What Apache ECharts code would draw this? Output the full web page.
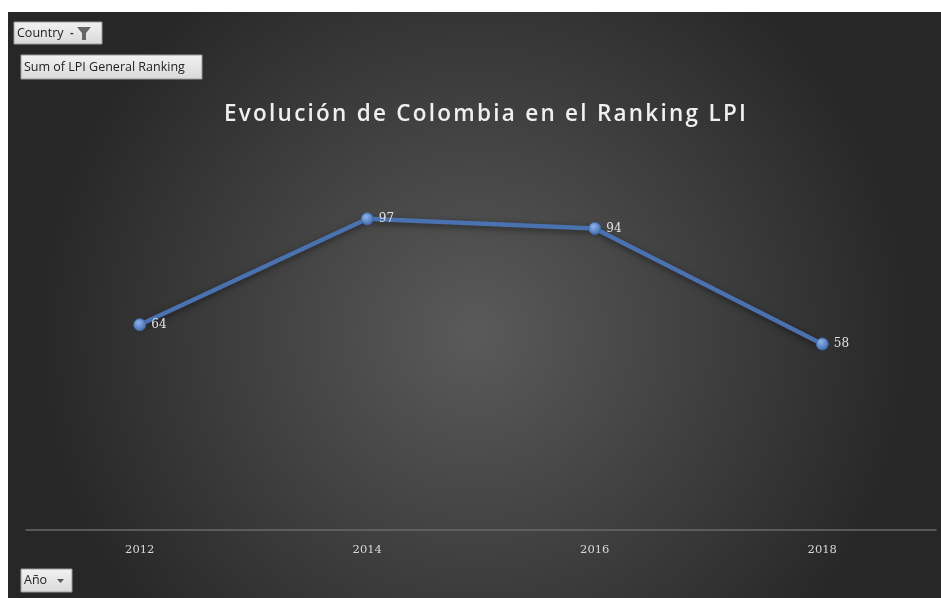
<!DOCTYPE html>
<html>
<head>
<meta charset="utf-8">
<script src="https://cdn.jsdelivr.net/npm/echarts@6/dist/echarts.min.js"></script>
<style>
html,body{margin:0;padding:0;background:#fff;}
#c{width:941px;height:598px;}
</style>
</head>
<body>
<div id="c"></div>
<script>
const years = ['2012', '2014', '2016', '2018'];
const ranking = [64, 97, 94, 58];
const titleText = 'Evolución de Colombia en el Ranking LPI';

const chart = echarts.init(document.getElementById('c'), null, {renderer: 'canvas'});

function button(x, y, w, h, text) {
  return [
    {type: 'rect', shape: {x: x, y: y, width: w, height: h},
     style: {fill: new echarts.graphic.LinearGradient(0, 0, 0, 1, [{offset: 0, color: '#f2f2f2'}, {offset: 1, color: '#d9d9d9'}]),
             stroke: '#9a9a9a', lineWidth: 1}, z: 10},
    {type: 'text', x: x + 3, y: y + h / 2,
     style: {text: text, fill: '#222', font: '12.5px "Open Sans", sans-serif', verticalAlign: 'middle'}, z: 11}
  ];
}

// spaced title (Excel uses character spacing)
const spacedTitle = titleText.split('').join('\u200A');

const graphics = [
  {type: 'rect', shape: {x: 8, y: 12, width: 933, height: 586},
   style: {fill: new echarts.graphic.RadialGradient(0.5, 0.55, 0.75, [
     {offset: 0, color: '#5a5a5a'}, {offset: 1, color: '#272727'}])}, z: -10}
];
graphics.push(...button(14, 22, 88, 22, 'Country'));
graphics.push({type: 'text', x: 70, y: 33, style: {text: '-', fill: '#333', font: 'bold 11px sans-serif', verticalAlign: 'middle'}, z: 11});
graphics.push({type: 'polygon', shape: {points: [[77, 27], [91, 27], [86, 33], [86, 40], [82, 40], [82, 33]]},
  style: {fill: '#666'}, z: 11});
graphics.push(...button(21, 55, 181, 24, 'Sum of LPI General Ranking'));
graphics.push(...button(21, 569, 51, 23, 'Año'));
graphics.push({type: 'polygon', shape: {points: [[57, 579], [64, 579], [60.5, 583]]}, style: {fill: '#555'}, z: 11});

chart.setOption({
  backgroundColor: '#fff',
  animation: false,
  graphic: graphics,
  title: {
    text: spacedTitle, left: 219, top: 98,
    textStyle: {color: '#f0f0f0', fontFamily: '"Open Sans", sans-serif', fontSize: 22.5, fontWeight: 600}
  },
  grid: {left: 26, right: 5, top: 145, bottom: 68},
  xAxis: {
    type: 'category', data: years, boundaryGap: true,
    axisLine: {lineStyle: {color: '#6a6a6a', width: 1.5}},
    axisTick: {show: false},
    axisLabel: {color: '#d8d8d8', fontFamily: '"DejaVu Serif", serif', fontSize: 11.5, margin: 14}
  },
  yAxis: {
    type: 'value', min: 0, max: 120, interval: 20, show: false,
    splitLine: {show: false}
  },
  series: [{
    type: 'line', data: ranking,
    symbol: 'circle', symbolSize: 12,
    lineStyle: {color: '#4a72b0', width: 4.5, shadowColor: 'rgba(0,0,0,0.5)', shadowBlur: 6, shadowOffsetY: 2},
    itemStyle: {
      color: new echarts.graphic.RadialGradient(0.4, 0.35, 0.7, [{offset: 0, color: '#8fb3ea'}, {offset: 1, color: '#3b66a8'}]),
      borderColor: '#3e68a8', borderWidth: 1
    },
    label: {show: true, position: 'right', distance: 5, color: '#e0e0e0',
      fontFamily: '"DejaVu Serif", serif', fontSize: 12}
  }]
});
</script>
</body>
</html>
